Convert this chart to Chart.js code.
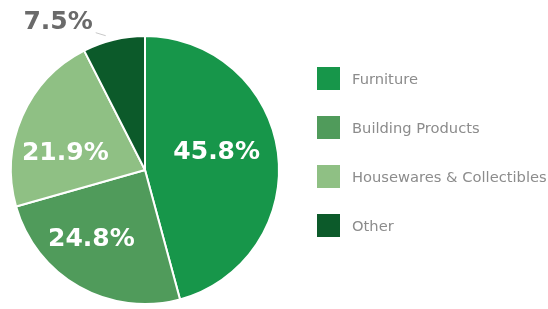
<!DOCTYPE html>
<html><head><meta charset="utf-8">
<script src="https://cdn.jsdelivr.net/npm/chart.js@4/dist/chart.umd.min.js"></script>
<style>html,body{margin:0;padding:0;background:#fff;}#wrap{width:548px;height:309px;position:relative;}</style>
</head><body><div id="wrap"><canvas id="c" width="548" height="309"></canvas></div>
<script>
const categories = ["Furniture", "Building Products", "Housewares & Collectibles", "Other"];
const values = [45.8, 24.8, 21.9, 7.5];
const valueLabels = ["45.8%", "24.8%", "21.9%", "7.5%"];
const colors = ["#17964a", "#509b5b", "#8fc084", "#0c5a2a"];

const labelNudges = [[-8, -7], [-14, 0], [-6, 16], [0, 0]];

const labelPlugin = {
  id: 'sliceLabels',
  afterDatasetsDraw(chart) {
    const ctx = chart.ctx;
    const meta = chart.getDatasetMeta(0);
    ctx.save();
    ctx.font = 'bold 25px "DejaVu Sans", sans-serif';
    ctx.textBaseline = 'middle';
    meta.data.forEach((arc, i) => {
      const mid = (arc.startAngle + arc.endAngle) / 2;
      const r = arc.outerRadius;
      const n = labelNudges[i];
      if (values[i] < 10) {
        const ax = arc.x + Math.cos(mid) * r;
        const ay = arc.y + Math.sin(mid) * r;
        ctx.strokeStyle = '#c8c8c8';
        ctx.lineWidth = 1;
        ctx.beginPath();
        ctx.moveTo(ax - 18, ay - 7);
        ctx.lineTo(ax - 8, ay - 4);
        ctx.stroke();
        ctx.fillStyle = '#6a6a6a';
        ctx.textAlign = 'right';
        ctx.fillText(valueLabels[i], ax - 21, ay - 17);
      } else {
        const f = 0.6;
        ctx.fillStyle = '#ffffff';
        ctx.textAlign = 'center';
        ctx.fillText(valueLabels[i], arc.x + Math.cos(mid) * r * f + n[0], arc.y + Math.sin(mid) * r * f + n[1]);
      }
    });
    ctx.restore();
  }
};

const legendPlugin = {
  id: 'sideLegend',
  afterDraw(chart) {
    const ctx = chart.ctx;
    ctx.save();
    ctx.font = '14.7px "DejaVu Sans", sans-serif';
    ctx.textBaseline = 'middle';
    ctx.textAlign = 'left';
    categories.forEach((c, i) => {
      const y = 67 + i * 49;
      ctx.fillStyle = colors[i];
      ctx.fillRect(317, y, 23, 23);
      ctx.fillStyle = '#8c8c8c';
      ctx.fillText(c, 352, y + 13);
    });
    ctx.restore();
  }
};

new Chart(document.getElementById('c'), {
  type: 'pie',
  data: { labels: categories, datasets: [{ data: values, backgroundColor: colors, borderColor: '#ffffff', borderWidth: 2 }] },
  options: {
    responsive: false,
    animation: false,
    layout: { padding: { left: 10, top: 35, right: 268, bottom: 4 } },
    plugins: { legend: { display: false }, tooltip: { enabled: false } }
  },
  plugins: [labelPlugin, legendPlugin]
});
</script></body></html>
